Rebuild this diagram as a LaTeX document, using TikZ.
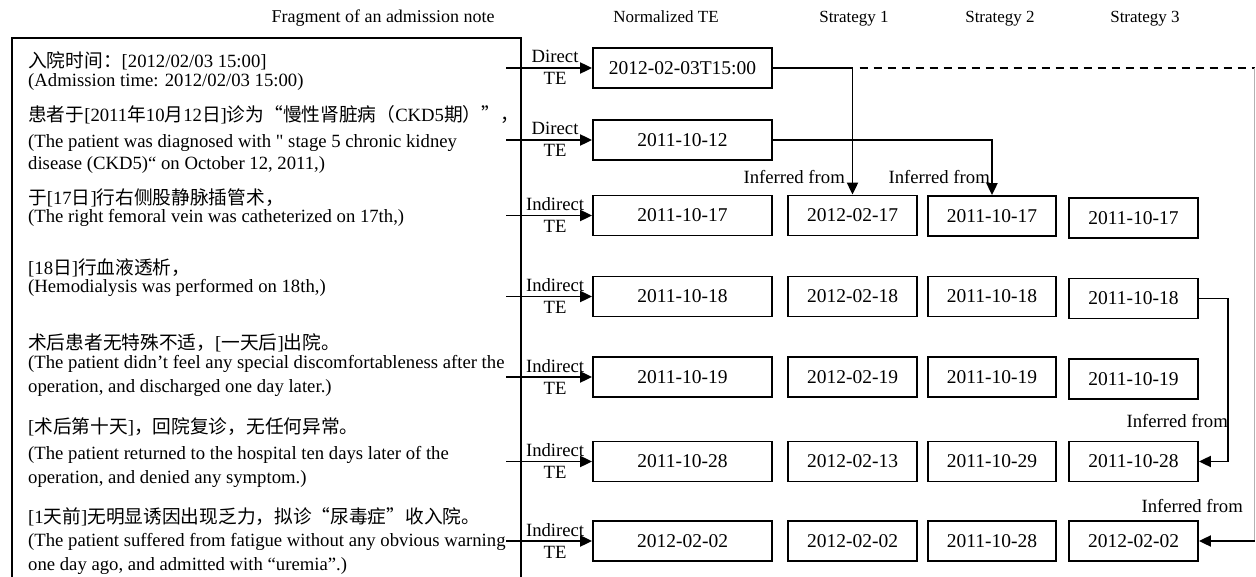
\documentclass[tikz,border=0pt]{standalone}
\usepackage{fontspec}
\setmainfont{Liberation Serif}
\newfontfamily\plainrm{Liberation Serif}[Ligatures=TeXOff]
\newfontfamily\cjk{Noto Sans CJK SC}
\usetikzlibrary{arrows.meta,calc}
\begin{document}
\begin{tikzpicture}[x=1pt,y=-1pt,
  every node/.style={font=\fontsize{18.7}{22}\selectfont},
  hdr/.style={anchor=base, inner sep=0pt, font=\fontsize{18}{21}\selectfont},
  chdr/.style={hdr, font=\fontsize{17}{20}\selectfont},
  txt/.style={anchor=base west, inner sep=0pt},
  lab/.style={anchor=base, inner sep=0pt},
  inf/.style={anchor=base east, inner sep=0pt},
  box/.style={draw, line width=1.8pt, minimum height=40pt, inner sep=0pt, font=\fontsize{19.5}{22}\selectfont},
  nbox/.style={box, minimum width=179pt},
  sbox/.style={box, minimum width=129pt},
  con/.style={line width=1.9pt},
  arr/.style={line width=1.9pt, -{Triangle[length=12pt,width=11pt]}}]
\useasboundingbox (0,0) rectangle (1256,577);

% headers
\node[hdr] (h0) at (383,23) {Fragment of an admission note};
\node[chdr] (h1) at (666,23) {Normalized TE};
\node[chdr] (h2) at (854,23) {Strategy 1};
\node[chdr] (h3) at (1000,23) {Strategy 2};
\node[chdr] (h4) at (1145,23) {Strategy 3};

% note frame
\draw[line width=1.8pt] (12,577) -- (12,38) -- (521,38) -- (521,577);

% note text
\node[txt] (p1a) at (28,68) {{\cjk 入院时间：}[2012/02/03 15:00]};
\node[txt] (p1b) at (28,87) {(Admission time: 2012/02/03 15:00)};
\node[txt] (p2a) at (28,122) {{\cjk 患者于}[2011{\cjk 年}10{\cjk 月}12{\cjk 日}]{\cjk 诊为“慢性肾脏病（}CKD5{\cjk 期）”，}};
\node[txt] (p2b) at (28,148) {(The patient was diagnosed with {\plainrm"} stage 5 chronic kidney};
\node[txt] (p2c) at (28,170) {disease (CKD5)“ on October 12, 2011,)};
\node[txt] (p3a) at (28,205) {{\cjk 于}[17{\cjk 日}]{\cjk 行右侧股静脉插管术，}};
\node[txt] (p3b) at (28,223) {(The right femoral vein was catheterized on 17th,)};
\node[txt] (p4a) at (28,275) {[18{\cjk 日}]{\cjk 行血液透析，}};
\node[txt] (p4b) at (28,293) {(Hemodialysis was performed on 18th,)};
\node[txt] (p5a) at (28,349) {{\cjk 术后患者无特殊不适，}[{\cjk 一天后}]{\cjk 出院。}};
\node[txt] (p5b) at (28,369) {(The patient didn’t feel any special discomfortableness after the};
\node[txt] (p5c) at (28,392) {operation, and discharged one day later.)};
\node[txt] (p6a) at (28,433) {[{\cjk 术后第十天}]{\cjk ，回院复诊，无任何异常。}};
\node[txt] (p6b) at (28,459) {(The patient returned to the hospital ten days later of the};
\node[txt] (p6c) at (28,483) {operation, and denied any symptom.)};
\node[txt] (p7a) at (28,523) {[1{\cjk 天前}]{\cjk 无明显诱因出现乏力，拟诊“尿毒症”收入院。}};
\node[txt] (p7b) at (28,546) {(The patient suffered from fatigue without any obvious warning};
\node[txt] (p7c) at (28,570) {one day ago, and admitted with “uremia”.)};

% normalized TE boxes
\node[nbox] (n1) at (682.5,68) {2012-02-03T15:00};
\node[nbox] (n2) at (682.5,140) {2011-10-12};
\node[nbox] (n3) at (682.5,215.5) {2011-10-17};
\node[nbox] (n4) at (682.5,296.5) {2011-10-18};
\node[nbox] (n5) at (682.5,377) {2011-10-19};
\node[nbox] (n6) at (682.5,461.5) {2011-10-28};
\node[nbox] (n7) at (682.5,541) {2012-02-02};

% strategy 1
\node[sbox] (a3) at (852.5,215.5) {2012-02-17};
\node[sbox] (a4) at (852.5,296.5) {2012-02-18};
\node[sbox] (a5) at (852.5,377) {2012-02-19};
\node[sbox] (a6) at (852.5,461.5) {2012-02-13};
\node[sbox] (a7) at (852.5,541) {2012-02-02};
% strategy 2
\node[sbox, minimum width=128pt] (b3) at (992,216) {2011-10-17};
\node[sbox, minimum width=128pt] (b4) at (992,296.5) {2011-10-18};
\node[sbox, minimum width=128pt] (b5) at (992,377) {2011-10-19};
\node[sbox, minimum width=128pt] (b6) at (992,461.5) {2011-10-29};
\node[sbox, minimum width=128pt] (b7) at (992,541) {2011-10-28};
% strategy 3
\node[sbox] (c3) at (1133.5,218) {2011-10-17};
\node[sbox] (c4) at (1133.5,298.5) {2011-10-18};
\node[sbox] (c5) at (1133.5,379) {2011-10-19};
\node[sbox] (c6) at (1133.5,461.5) {2011-10-28};
\node[sbox] (c7) at (1133.5,541) {2012-02-02};

% input arrows with labels
\foreach \r/\k in {1/Direct,2/Direct,3/Indirect,4/Indirect,5/Indirect,6/Indirect,7/Indirect}{
  \coordinate (s\r) at ($(n\r.west)+(-86,0)$);
  \draw[arr] (s\r) -- (n\r.west);
  \node[lab] (k\r) at ($(n\r.west)+(-37,-5)$) {\k};
  \node[lab] (t\r) at ($(n\r.west)+(-37,17)$) {TE};
}

% inference connectors
\draw[arr] (n1.east) -| (a3.north);
\draw[arr] (n2.east) -| (b3.north);
\coordinate (dr) at (1254.5,68);
\coordinate (br) at (1254.5,541);
\draw[con, dashed, dash pattern=on 8pt off 6pt] ($(a3.north |- n1.east)+(7,0)$) -- (dr);
\draw[gray!60, line width=0.6pt] (dr) -- (br);
\draw[arr] (br) -- (c7.east);
\draw[arr] (c4.east) -- ++(29,0) |- (c6.east);

\node[inf] (i1) at (845,184) {Inferred from};
\node[inf] (i2) at (990,184) {Inferred from};
\node[inf] (i3) at (1228,427) {Inferred from};
\node[inf] (i4) at (1243,512) {Inferred from};
\end{tikzpicture}
\end{document}
